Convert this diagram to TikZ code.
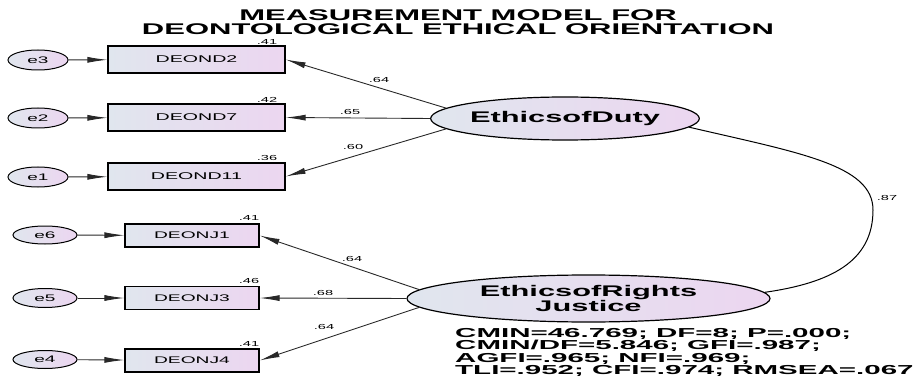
\documentclass[tikz,border=0pt]{standalone}
\usepackage{fontspec}
\setmainfont{Liberation Sans}[FakeStretch=2]
\newfontfamily\widerfont{Liberation Sans}[FakeStretch=2.27]
\usetikzlibrary{shapes.geometric,arrows.meta}

\definecolor{shadeL}{RGB}{224,230,238}
\definecolor{shadeR}{RGB}{236,214,240}
\definecolor{linegray}{RGB}{40,40,40}

\tikzset{
  grad/.style={left color=shadeL, right color=shadeR, draw=black},
  errnode/.style={grad, ellipse, line width=1pt, minimum width=60pt, minimum height=20pt,
    inner sep=0pt, font=\fontsize{9.5}{10}\selectfont},
  obsA/.style={grad, rectangle, line width=1.3pt, minimum width=177pt, minimum height=27pt,
    inner sep=0pt, font=\fontsize{9.8}{10}\selectfont},
  obsB/.style={grad, rectangle, line width=1.3pt, minimum width=134pt, minimum height=23pt,
    inner sep=0pt, font=\fontsize{9.6}{10}\selectfont},
  latent/.style={grad, ellipse, line width=1.2pt, inner sep=0pt, align=center,
    font=\fontsize{15.4}{14}\selectfont\bfseries},
  num/.style={inner sep=0pt, font=\fontsize{7.3}{8}\selectfont},
  path/.style={draw=linegray, line width=0.9pt, -{Latex[length=20pt,width=6pt]}},
  cov/.style={draw=black, line width=1pt},
  heading/.style={inner sep=0pt, anchor=base, font=\fontsize{15.5}{14}\selectfont\bfseries},
  fit/.style={inner sep=0pt, anchor=base west, font=\widerfont\fontsize{13}{12}\selectfont\bfseries},
}

\begin{document}
\begin{tikzpicture}[x=1pt,y=-1pt]
\useasboundingbox (0,0) rectangle (913,377);

% title
\node[heading] (t1) at (458,21) {MEASUREMENT MODEL FOR};
\node[heading] (t2) at (458,35) {DEONTOLOGICAL ETHICAL ORIENTATION};

% ethics of duty block
\node[errnode] (e3) at (38,60) {e3};
\node[errnode] (e2) at (38,118) {e2};
\node[errnode] (e1) at (38,177) {e1};
\node[obsA] (d2) at (196.5,59.5) {DEOND2};
\node[obsA] (d7) at (196.5,117.5) {DEOND7};
\node[obsA] (d11) at (196.5,176.5) {DEOND11};
\node[latent, minimum width=260pt, minimum height=43pt] (duty) at (565,118.5) {EthicsofDuty};

% ethics of rights / justice block
\node[errnode, minimum width=64pt, minimum height=18pt] (e6) at (45,235) {e6};
\node[errnode, minimum width=64pt, minimum height=19pt] (e5) at (45,298) {e5};
\node[errnode, minimum width=64pt, minimum height=18pt] (e4) at (45,359.5) {e4};
\node[obsB] (j1) at (192,235.5) {DEONJ1};
\node[obsB] (j3) at (192,298) {DEONJ3};
\node[obsB] (j4) at (192,360.5) {DEONJ4};
\node[latent, minimum width=363pt, minimum height=47pt] (rights) at (588.5,298.5)
  {EthicsofRights\\Justice};

% error terms
\draw[path] (e3) -- (d2);
\draw[path] (e2) -- (d7);
\draw[path] (e1) -- (d11);
\draw[path] (e6) -- (j1);
\draw[path] (e5) -- (j3);
\draw[path] (e4) -- (j4);

% loadings
\draw[path] (duty.175) -- (d2.east);
\draw[path] (duty.west) -- (d7.east);
\draw[path] (duty.185) -- (d11.east);
\draw[path] (rights.177) -- (j1.east);
\draw[path] (rights.west) -- (j3.east);
\draw[path] (rights.183) -- (j4.east);

% covariance between the factors
\coordinate (bend) at (873,210);
\draw[cov] (duty.-4) .. controls (800,153) and (873,165) .. (bend)
  .. controls (873,262) and (830,283) .. (rights.2);

% squared multiple correlations
\node[num] (r2) at (267,42) {.41};
\node[num] (r7) at (267,100) {.42};
\node[num] (r11) at (267,158) {.36};
\node[num] (rj1) at (249,218) {.41};
\node[num] (rj3) at (249,281) {.46};
\node[num] (rj4) at (249,344) {.41};

% standardized estimates
\node[num] (l2) at (379,80) {.64};
\node[num] (l7) at (350,112) {.65};
\node[num] (l11) at (353,147) {.60};
\node[num] (lj1) at (352,259) {.64};
\node[num] (lj3) at (323,293) {.68};
\node[num] (lj4) at (324,327) {.64};
\node[num] (lc) at (887,198) {.87};

% fit statistics
\node[fit] (s1) at (455,337) {CMIN=46.769; DF=8; P=.000;};
\node[fit] (s2) at (455,349.5) {CMIN/DF=5.846; GFI=.987;};
\node[fit] (s3) at (455,362) {AGFI=.965; NFI=.969;};
\node[fit] (s4) at (455,374.5) {TLI=.952; CFI=.974; RMSEA=.067};
\end{tikzpicture}
\end{document}
